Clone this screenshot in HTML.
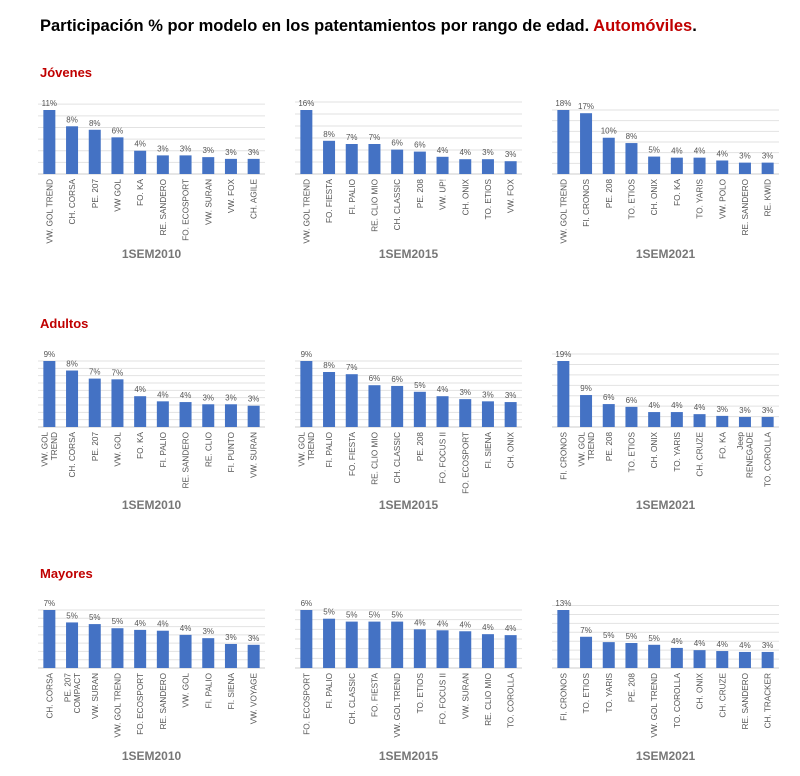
<!DOCTYPE html>
<html><head><meta charset="utf-8">
<style>
html,body{margin:0;padding:0;background:#fff;}
svg{display:block;font-family:"Liberation Sans",Arial,sans-serif;}
</style></head>
<body>
<svg id="c" width="800" height="776" viewBox="0 0 800 776" xmlns="http://www.w3.org/2000/svg">
<text x="40" y="31" font-size="16.5" font-weight="bold" fill="#000">Participación % por modelo en los patentamientos por rango de edad. <tspan fill="#c00000">Automóviles</tspan>.</text>
<text x="40" y="77" font-size="13" font-weight="bold" fill="#c00000">Jóvenes</text>
<text x="40" y="328" font-size="13" font-weight="bold" fill="#c00000">Adultos</text>
<text x="40" y="578" font-size="13" font-weight="bold" fill="#c00000">Mayores</text>
<g id="charts"></g>
</svg>
<script>
// Jóvenes
const cat_j10 = ["VW. GOL TREND","CH. CORSA","PE. 207","VW GOL","FO. KA","RE. SANDERO","FO. ECOSPORT","VW. SURAN","VW. FOX","CH. AGILE"];
const val_j10 = [11.0,8.2,7.6,6.3,4.0,3.2,3.2,2.9,2.6,2.6];
const lab_j10 = ["11%","8%","8%","6%","4%","3%","3%","3%","3%","3%"];
const cat_j15 = ["VW. GOL TREND","FO. FIESTA","FI. PALIO","RE. CLIO MIO","CH. CLASSIC","PE. 208","VW. UP!","CH. ONIX","TO. ETIOS","VW. FOX"];
const val_j15 = [16,8.3,7.5,7.5,6.1,5.6,4.3,3.7,3.7,3.2];
const lab_j15 = ["16%","8%","7%","7%","6%","6%","4%","4%","3%","3%"];
const cat_j21 = ["VW. GOL TREND","FI. CRONOS","PE. 208","TO. ETIOS","CH. ONIX","FO. KA","TO. YARIS","VW. POLO","RE. SANDERO","RE. KWID"];
const val_j21 = [18,17.1,10.2,8.7,4.9,4.6,4.6,3.8,3.2,3.2];
const lab_j21 = ["18%","17%","10%","8%","5%","4%","4%","4%","3%","3%"];
// Adultos
const cat_a10 = ["VW. GOL|TREND","CH. CORSA","PE. 207","VW. GOL","FO. KA","FI. PALIO","RE. SANDERO","RE. CLIO","FI. PUNTO","VW. SURAN"];
const val_a10 = [9,7.7,6.6,6.5,4.2,3.5,3.4,3.1,3.1,2.9];
const lab_a10 = ["9%","8%","7%","7%","4%","4%","4%","3%","3%","3%"];
const cat_a15 = ["VW. GOL|TREND","FI. PALIO","FO. FIESTA","RE. CLIO MIO","CH. CLASSIC","PE. 208","FO. FOCUS II","FO. ECOSPORT","FI. SIENA","CH. ONIX"];
const val_a15 = [9,7.5,7.2,5.7,5.6,4.8,4.2,3.8,3.5,3.4];
const lab_a15 = ["9%","8%","7%","6%","6%","5%","4%","3%","3%","3%"];
const cat_a21 = ["FI. CRONOS","VW. GOL|TREND","PE. 208","TO. ETIOS","CH. ONIX","TO. YARIS","CH. CRUZE","FO. KA","Jeep|RENEGADE","TO. COROLLA"];
const val_a21 = [19,9.2,6.6,5.8,4.3,4.3,3.7,3.2,2.9,2.9];
const lab_a21 = ["19%","9%","6%","6%","4%","4%","4%","3%","3%","3%"];
// Mayores
const cat_m10 = ["CH. CORSA","PE. 207|COMPACT","VW. SURAN","VW. GOL TREND","FO. ECOSPORT","RE. SANDERO","VW. GOL","FI. PALIO","FI. SIENA","VW. VOYAGE"];
const val_m10 = [7,5.5,5.3,4.8,4.6,4.5,4.0,3.6,2.9,2.8];
const lab_m10 = ["7%","5%","5%","5%","4%","4%","4%","3%","3%","3%"];
const cat_m15 = ["FO. ECOSPORT","FI. PALIO","CH. CLASSIC","FO. FIESTA","VW. GOL TREND","TO. ETIOS","FO. FOCUS II","VW. SURAN","RE. CLIO MIO","TO. COROLLA"];
const val_m15 = [6,5.1,4.8,4.8,4.8,4.0,3.9,3.8,3.5,3.4];
const lab_m15 = ["6%","5%","5%","5%","5%","4%","4%","4%","4%","4%"];
const cat_m21 = ["FI. CRONOS","TO. ETIOS","TO. YARIS","PE. 208","VW. GOL TREND","TO. COROLLA","CH. ONIX","CH. CRUZE","RE. SANDERO","CH. TRACKER"];
const val_m21 = [13,7,5.8,5.6,5.2,4.5,4.0,3.8,3.6,3.6];
const lab_m21 = ["13%","7%","5%","5%","5%","4%","4%","4%","4%","3%"];
const periods = ["1SEM2010","1SEM2015","1SEM2021"];

const NS="http://www.w3.org/2000/svg";
const root=document.getElementById('charts');
function mk(tag,attrs,parent){const e=document.createElementNS(NS,tag);for(const k in attrs)e.setAttribute(k,attrs[k]);parent.appendChild(e);return e;}

const colX=[38,295,552];
const rows=[{top:104,barTop:110,base:174,title:258},{top:356,barTop:361,base:427,title:509},{top:604,barTop:610,base:668,title:760}];
const datasets=[
 [[cat_j10,val_j10,lab_j10,2],[cat_j15,val_j15,lab_j15,3],[cat_j21,val_j21,lab_j21,3]],
 [[cat_a10,val_a10,lab_a10,1],[cat_a15,val_a15,lab_a15,1],[cat_a21,val_a21,lab_a21,3]],
 [[cat_m10,val_m10,lab_m10,1],[cat_m15,val_m15,lab_m15,1],[cat_m21,val_m21,lab_m21,2]]
];
const W=227;
datasets.forEach((row,ri)=>{
 row.forEach((ds,ci)=>{
  const [cats,vals,labs,step]=ds;
  const R=rows[ri], x0=colX[ci];
  const g=mk('g',{},root);
  
  
  const maxV=Math.max(...vals);
  const scale=(R.base-R.barTop)/maxV;
  const y=v=>R.base-v*scale;
  const band=W/cats.length;
  for(let v=0; y(v)>=R.top-2; v+=step){
   const l=mk('line',{x1:x0,x2:x0+W,y1:y(v),y2:y(v),stroke:v===0?'#ccc':'#e2e2e2','stroke-width':1},g);
   
   
  }
  cats.forEach((c,i)=>{
   const cx=x0+band*(i+0.5);
   const b=mk('rect',{x:cx-6,y:y(vals[i]),width:12,height:vals[i]*scale,fill:'#4472c4'},g);
   
   
   const t=mk('text',{x:cx,y:y(vals[i])-4,'text-anchor':'middle','font-size':8,fill:'#555'},g);
   t.textContent=labs[i];
   
   
   const lines=c.split('|');
   lines.forEach((ln,li)=>{
    const off=(li-(lines.length-1)/2)*9.5;
    const lx=cx+off+3, ly=R.base+5;
    const tt=mk('text',{x:lx,y:ly,'text-anchor':'end','font-size':8.2,fill:'#555',transform:'rotate(-90 '+lx+' '+ly+')'},g);
    tt.textContent=ln;
    
    
   });
  });
  const tl=mk('text',{x:x0+W/2,y:R.title,'text-anchor':'middle','font-size':12,'font-weight':'bold',fill:'#777'},g);
  tl.textContent=periods[ci];
  
  
 });
});
</script>
</body></html>
